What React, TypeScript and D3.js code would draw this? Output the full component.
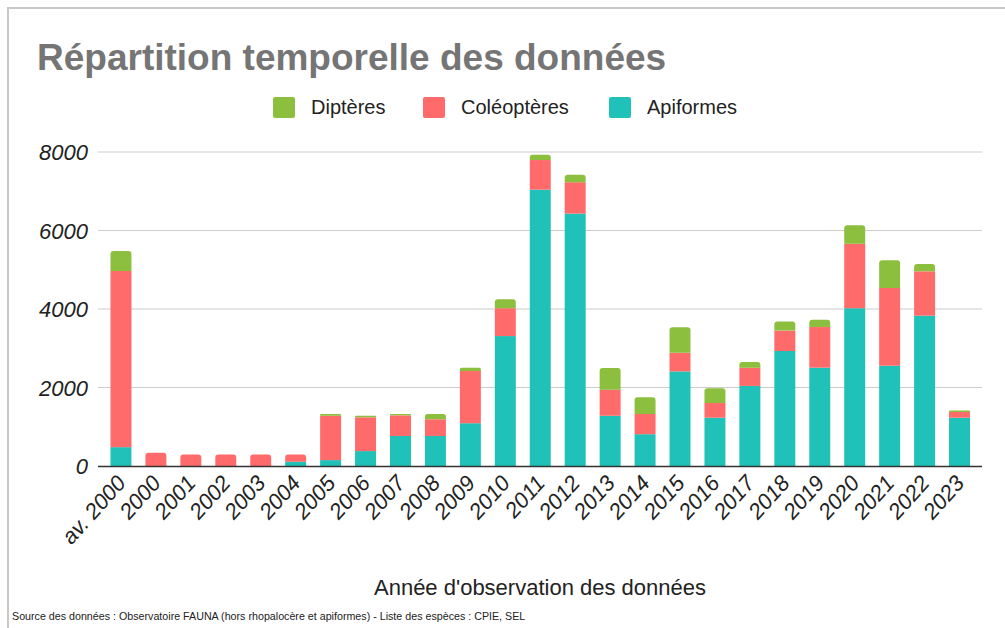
import React from 'react';
import * as d3 from 'd3';

const years = ['av. 2000', '2000', '2001', '2002', '2003', '2004', '2005', '2006', '2007', '2008', '2009', '2010',
    '2011', '2012', '2013', '2014', '2015', '2016', '2017', '2018', '2019', '2020', '2021', '2022', '2023'];

// valeurs
const apiformes = [480, 0, 0, 0, 0, 110, 150, 380, 765, 765, 1090, 3310, 7040, 6430, 1280, 810, 2410, 1230, 2040, 2930, 2505, 4020, 2555, 3830, 1230];
const coleopteres = [4490, 340, 290, 290, 290, 180, 1130, 860, 525, 425, 1330, 710, 755, 800, 665, 515, 475, 375, 465, 520, 1035, 1645, 1980, 1130, 145];
const dipteres = [510, 0, 0, 0, 0, 0, 45, 40, 35, 135, 85, 230, 135, 190, 550, 425, 650, 375, 145, 230, 185, 470, 705, 185, 40];

const yTicks = [0, 2000, 4000, 6000, 8000];

const keys = ['Apiformes', 'Coléoptères', 'Diptères'];
const colors: Record<string, string> = {
    'Diptères': '#8dbf3e',
    'Coléoptères': '#ff6b6b',
    'Apiformes': '#1fc1b8',
};
const legendItems = [
    { key: 'Diptères', x: 273 },
    { key: 'Coléoptères', x: 423 },
    { key: 'Apiformes', x: 609 },
];

const topRounded = (x: number, y0: number, y1: number, w: number, r: number) => {
    const rr = Math.min(r, (y0 - y1) / 2, w / 2);
    return `M${x},${y0}V${y1 + rr}Q${x},${y1} ${x + rr},${y1}H${x + w - rr}Q${x + w},${y1} ${x + w},${y1 + rr}V${y0}Z`;
};

export default function App() {
    const width = 1005;
    const height = 628;
    const font = 'Liberation Sans, Arial, sans-serif';

    const rows = years.map((year, i) => ({
        year,
        Apiformes: apiformes[i],
        'Coléoptères': coleopteres[i],
        'Diptères': dipteres[i],
    }));

    const x = d3.scaleBand<string>()
        .domain(years)
        .range([103.5, 977])
        .paddingInner(0.4)
        .paddingOuter(0.2);
    const y = d3.scaleLinear().domain([0, 8000]).range([466, 152]);

    const stack = d3.stack<any>().keys(keys)(rows);
    const bw = x.bandwidth();

    return (
        <svg width={width} height={height} style={{ position: 'absolute', left: 0, top: 0 }}>
            <rect x={0} y={0} width={width} height={height} fill="#fff" />
            <path d={`M8,${height}V8H${width}`} fill="none" stroke="#c8c8c8" strokeWidth={2} />

            <text x={37} y={70} fontFamily={font} fontWeight="bold" fontSize={37} fill="#757575">
                Répartition temporelle des données
            </text>

            {legendItems.map((l) => (
                <g key={l.key}>
                    <rect x={l.x} y={97} width={22} height={21} rx={2} fill={colors[l.key]} />
                    <text x={l.x + 38} y={114} fontFamily={font} fontSize={20} fill="#222">{l.key}</text>
                </g>
            ))}

            {yTicks.map((t) => (
                <g key={t}>
                    {t > 0 && <line x1={98} x2={982} y1={y(t)} y2={y(t)} stroke="#cccccc" strokeWidth={1.2} />}
                    <text x={88} y={y(t) + 8} textAnchor="end" fontFamily={font} fontStyle="italic" fontSize={22} fill="#222">
                        {t}
                    </text>
                </g>
            ))}

            {rows.map((row, i) => {
                const segs = stack.map((s) => ({ key: s.key, y0: s[i][0], y1: s[i][1] })).filter((s) => s.y1 > s.y0);
                const bx = x(row.year) as number;
                return (
                    <g key={row.year}>
                        {segs.map((s, j) =>
                            j === segs.length - 1 ? (
                                <path key={s.key} d={topRounded(bx, y(s.y0), y(s.y1), bw, 3)} fill={colors[s.key]} />
                            ) : (
                                <rect key={s.key} x={bx} y={y(s.y1)} width={bw} height={y(s.y0) - y(s.y1)} fill={colors[s.key]} />
                            )
                        )}
                    </g>
                );
            })}

            <line x1={98} x2={982} y1={466.5} y2={466.5} stroke="#333" strokeWidth={1.5} />

            {years.map((l) => {
                const cx = (x(l) as number) + bw / 2 + 6;
                return (
                    <text key={l} transform={`translate(${cx},${484}) rotate(-48)`} textAnchor="end"
                        fontFamily={font} fontStyle="italic" fontSize={22} fill="#222">
                        {l}
                    </text>
                );
            })}

            <text x={540} y={595} textAnchor="middle" fontFamily={font} fontSize={22} fill="#222">
                Année d'observation des données
            </text>
            <text x={12} y={620} fontFamily={font} fontSize={10.7} fill="#222">
                Source des données : Observatoire FAUNA (hors rhopalocère et apiformes) - Liste des espèces : CPIE, SEL
            </text>
        </svg>
    );
}
